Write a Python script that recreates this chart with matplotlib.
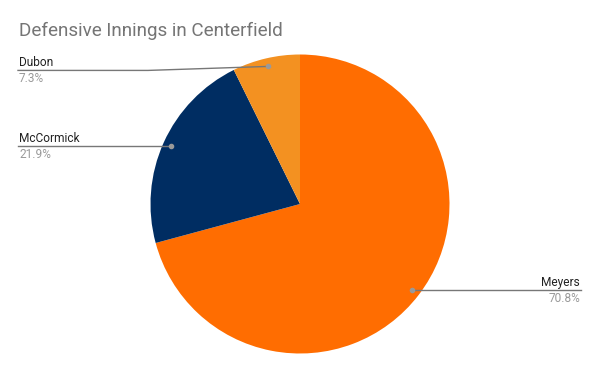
import numpy as np
import matplotlib.pyplot as plt

players = ["Meyers", "McCormick", "Dubon"]
innings_pct = [70.8, 21.9, 7.3]
colors = ["#FF6D01", "#002D62", "#F39121"]
pct_labels = ["70.8%", "21.9%", "7.3%"]

plt.rcParams["font.family"] = ["Roboto", "DejaVu Sans"]

W, H = 600, 371
fig = plt.figure(figsize=(W / 100, H / 100), dpi=100)
ax = fig.add_axes([0, 0, 1, 1])

cx, cy, r = 300, H - 204, 149.5
wedges, _ = ax.pie(innings_pct, colors=colors, startangle=90, counterclock=False,
                   center=(cx, cy), radius=r, frame=True,
                   wedgeprops=dict(linewidth=0))
ax.set_xlim(0, W)
ax.set_ylim(0, H)
ax.axis("off")

# leader lines + labels
for i, w in enumerate(wedges):
    mid = np.deg2rad((w.theta1 + w.theta2) / 2)
    dx, dy = cx + 0.945 * r * np.cos(mid), cy + 0.945 * r * np.sin(mid)
    if np.cos(mid) > 0:
        xe = W - 19
        ly = dy
        ax.plot([dx, xe], [dy, ly], color="#777777", lw=1)
        ha = "right"
    else:
        xe = 18
        ly = dy if abs(np.sin(mid)) < 0.6 else dy - 4
        if ly != dy:
            ax.plot([dx, dx - 120, xe], [dy, ly, ly], color="#777777", lw=1)
        else:
            ax.plot([dx, xe], [dy, ly], color="#777777", lw=1)
        ha = "left"
    ax.plot(dx, dy, "o", color="#999999", ms=3)
    tx = xe + 1 if ha == "left" else xe - 1
    ax.text(tx, ly + 4, players[i], ha=ha, va="baseline", fontsize=8.6, color="#222222")
    ax.text(tx, ly - 12, pct_labels[i], ha=ha, va="baseline", fontsize=8.6, color="#999999")

fig.text(19 / W, 1 - 36 / H, "Defensive Innings in Centerfield", ha="left", va="baseline",
         fontsize=13.6, color="#757575")

fig.savefig("out.png", dpi=100)
